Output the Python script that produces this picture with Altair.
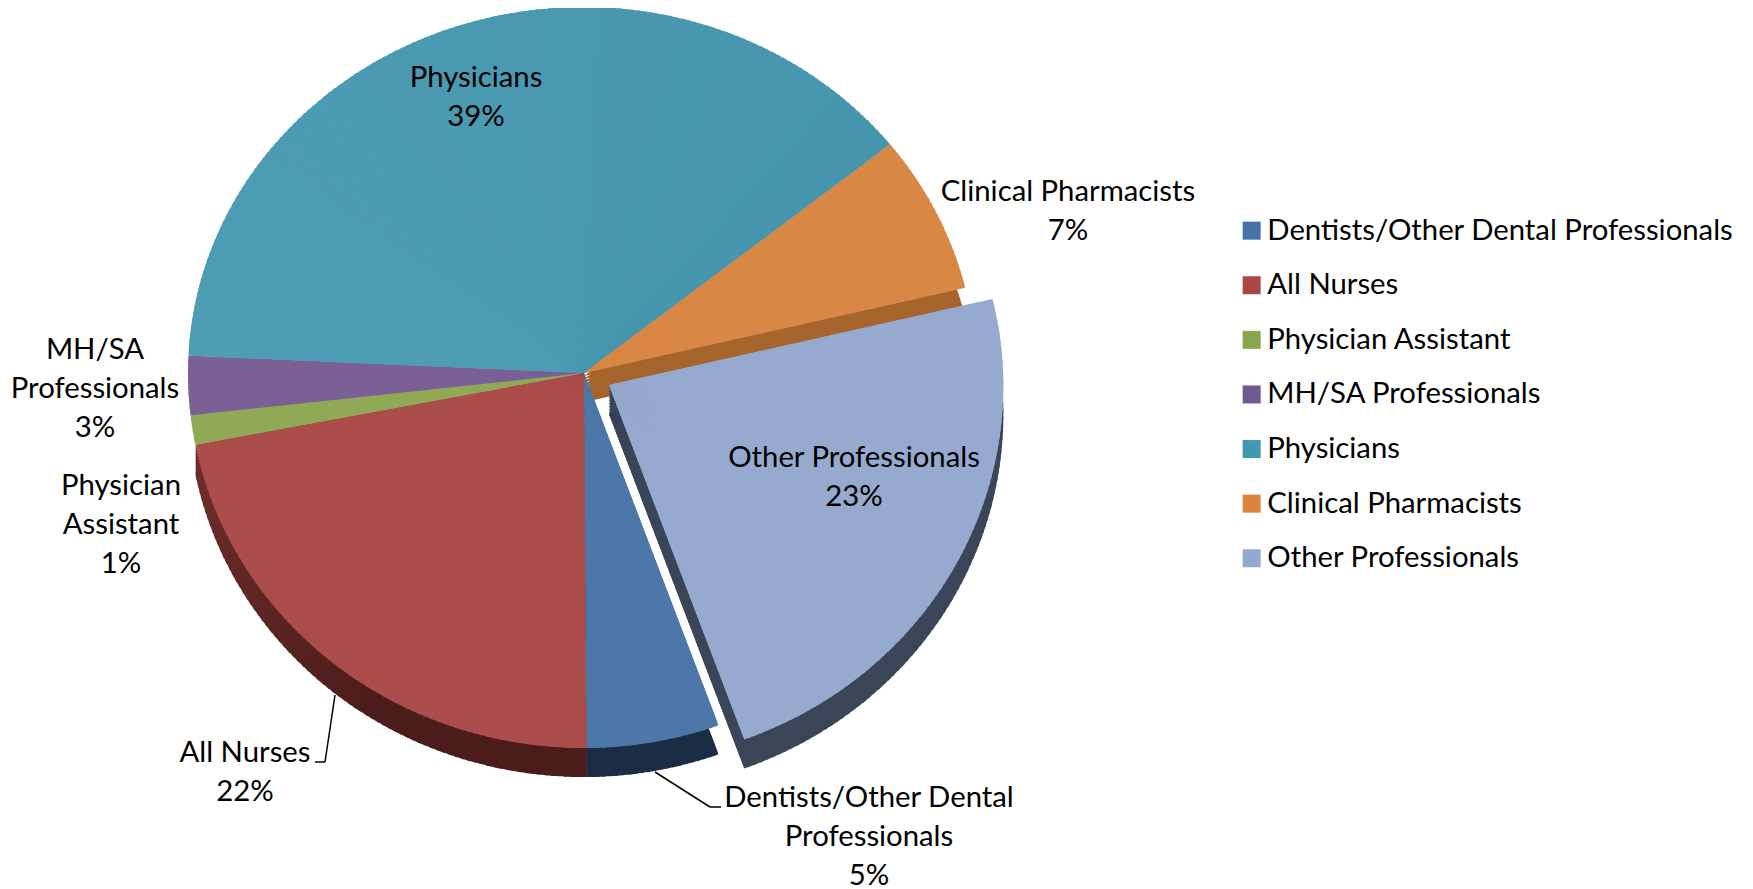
import math
import altair as alt
import pandas as pd

categories = ["Dentists/Other Dental Professionals", "All Nurses", "Physician Assistant",
              "MH/SA Professionals", "Physicians", "Clinical Pharmacists", "Other Professionals"]
values = [5.7, 22.2, 1.2, 2.4, 39.1, 6.7, 22.7]
legend_colors = ["#4572a7", "#aa4643", "#89a54e", "#71588f", "#4198af", "#db843d", "#93a9cf"]
top_colors = ["#4c77a8", "#ab4d4a", "#8fa955", "#7a6095", "#4d9db5", "#d98745", "#96a9cf"]
top_end_colors = ["#4c77a8", "#ab4d4a", "#8fa955", "#7a6095", "#4796ae", "#d98745", "#96a9cf"]
side_colors = ["#1b2d45", "#4a1c1a", "#5c7030", "#4a3a60", "#2c6070", "#a5652d", "#3a4558"]
side_end_colors = ["#1b2d45", "#6d2c2a", "#5c7030", "#4a3a60", "#2c6070", "#a5652d", "#3a4558"]
label_text = ["Dentists/Other Dental\nProfessionals\n5%", "All Nurses\n22%", "Physician\nAssistant\n1%",
              "MH/SA\nProfessionals\n3%", "Physicians\n39%", "Clinical Pharmacists\n7%", "Other Professionals\n23%"]

FONT = "Lato"
FS = 29.3
OX, OY = 8, 8
APEX = (584 - OX, 373 - OY)
SHIFT = (25, 12)
DEPTH = 29
START_DEG = 159.1
RX_L, RX_R, RY_TOP, RY_BOT = 396, 392, 366, 375
OTHER_GROW = 1.006
label_first_line = [(869, 798), (245, 753), (121, 486), (95, 350), (476, 78), (1068, 192), (854, 458)]


def radius_at(deg):
    a = math.radians(deg)
    ry = RY_TOP if math.cos(a) > 0 else RY_BOT
    rx = RX_R if math.sin(a) > 0 else RX_L
    return 1 / math.sqrt((math.sin(a) / rx) ** 2 + (math.cos(a) / ry) ** 2)


def blend(c1, c2, t):
    a = [int(c1[i:i + 2], 16) for i in (1, 3, 5)]
    b = [int(c2[i:i + 2], 16) for i in (1, 3, 5)]
    return "#" + "".join(f"{round(p + (q - p) * t):02x}" for p, q in zip(a, b))


total = sum(values)
rows = []
base_rows = []
cum = 0.0
for cat, val, top, top_end, side, side_end in zip(categories, values, top_colors, top_end_colors,
                                                  side_colors, side_end_colors):
    n = max(2, math.ceil(val * 3.6))
    grow = OTHER_GROW if cat == "Other Professionals" else 1.0
    radii = []
    for i in range(n):
        s = cum + val * i / n
        e = cum + val * (i + 1) / n
        mid = START_DEG + (s + e) / 2 / total * 360
        r = radius_at(mid) * grow
        radii.append(r)
        # each wedge runs a little under the next one, so no seam shows
        e_over = e if i == n - 1 else min(e + val / n * 0.5, cum + val)
        t = i / (n - 1)
        rows.append(dict(cat=cat, s=s, e=e_over, r=r, last=i >= n - 2,
                         top=blend(top, top_end, t),
                         side=blend(side, side_end, max(0, (t - 0.4) / 0.6))))
    base_rows.append(dict(cat=cat, s=cum, e=cum + val, r=min(radii) - 1, top=top, side=side))
    cum += val
df = pd.DataFrame(rows)
base = pd.DataFrame(base_rows)

theta_scale = alt.Scale(domain=[0, total],
                        range=[math.radians(START_DEG), math.radians(START_DEG + 360)])


def arcs(frame, colour_field, dx, dy):
    return (
        alt.Chart(frame)
        .mark_arc()
        .encode(
            theta=alt.Theta("s:Q", scale=theta_scale, stack=None),
            theta2="e:Q",
            radius=alt.Radius("r:Q", scale=None),
            color=alt.Color(f"{colour_field}:N", scale=None),
            x=alt.value(APEX[0] + dx),
            y=alt.value(APEX[1] + dy),
        )
    )


def pie(cats, colour_field, dx, dy):
    return [arcs(base[base["cat"].isin(cats)], colour_field, dx, dy),
            arcs(df[df["cat"].isin(cats)], colour_field, dx, dy)]


other = ["Other Professionals"]
rest = [c for c in categories if c not in other]
walled = ["Dentists/Other Dental Professionals", "All Nurses", "Clinical Pharmacists"]

layers = []
# cut walls: the side colour swept from the top face down to the full depth
for dy in range(3, DEPTH, 3):
    layers.append(arcs(base[base["cat"] == "Clinical Pharmacists"], "side", 0, dy))
    layers.append(arcs(df[(df["cat"] == "All Nurses") & df["last"]], "side", 0, dy))
layers += pie(walled, "side", 0, DEPTH)
layers += pie(rest, "top", 0, 0)
for dy in range(3, DEPTH, 3):
    layers.append(arcs(base[base["cat"] == "Other Professionals"], "side", SHIFT[0], SHIFT[1] + dy))
layers += pie(other, "side", SHIFT[0], SHIFT[1] + DEPTH)
layers += pie(other, "top", SHIFT[0], SHIFT[1])

for (x1, y1, x2, y2) in [(335, 695, 325, 762), (325, 762, 315, 762),
                         (655, 772, 710, 807), (710, 807, 721, 807)]:
    layers.append(
        alt.Chart(pd.DataFrame({"k": [0]}))
        .mark_rule(color="#000000", strokeWidth=1.5)
        .encode(x=alt.value(x1 - OX), y=alt.value(y1 - OY), x2=alt.value(x2 - OX), y2=alt.value(y2 - OY))
    )

for txt, (lx, ly) in zip(label_text, label_first_line):
    layers.append(
        alt.Chart(pd.DataFrame({"t": [txt]}))
        .mark_text(font=FONT, fontSize=FS, color="#000000", align="center", baseline="middle",
                   lineBreak="\n", lineHeight=39)
        .encode(text="t:N", x=alt.value(lx - OX), y=alt.value(ly - OY))
    )

legend_layer = (
    alt.Chart(pd.DataFrame({"cat": categories}))
    .mark_square(opacity=0, size=1)
    .encode(
        x=alt.value(0),
        y=alt.value(0),
        color=alt.Color(
            "cat:N",
            scale=alt.Scale(domain=categories, range=legend_colors),
            legend=alt.Legend(
                title=None, orient="none", legendX=1237 - OX, legendY=216 - OY,
                symbolType="square", symbolSize=324, symbolOpacity=1, symbolStrokeWidth=0,
                labelFont=FONT, labelFontSize=FS, labelColor="#000000", labelLimit=600,
                labelOffset=1, rowPadding=24.6, padding=0,
            ),
        ),
    )
)
layers.append(legend_layer)

chart = (
    alt.layer(*layers)
    .resolve_scale(color="independent", theta="shared")
    .properties(width=1737, height=880, padding=0, autosize="none")
    .configure_view(stroke=None)
)
chart.save("out.html", embed_options={"renderer": "svg", "actions": False})
